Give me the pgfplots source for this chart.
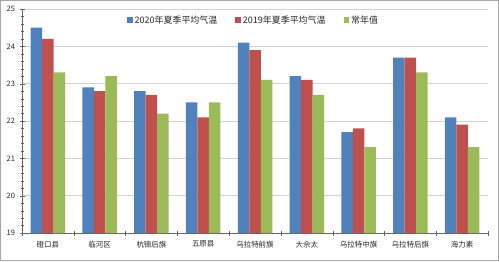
\documentclass[border=0pt]{standalone}
\usepackage{fontspec}
\setmainfont{Noto Sans CJK SC}
\usepackage{pgfplots}
\pgfplotsset{compat=1.18}
\definecolor{cb}{HTML}{4F81BD}
\definecolor{cr}{HTML}{C0504D}
\definecolor{cg}{HTML}{9BBB59}
\begin{document}
\begin{tikzpicture}[x=1bp,y=1bp]
\path (0,0) rectangle (499,261);
\draw[gray!70,line width=0.8bp] (0.5,0.5) rectangle (498.5,260.5);
\begin{axis}[
  at={(22bp,28bp)}, anchor=south west,
  width=466bp, height=224bp, scale only axis,
  ybar=0pt, bar width=11.5bp,
  xmin=-0.5, xmax=8.5, ymin=19, ymax=25,
  ytick={19,20,...,25},
  minor y tick num=4,
  axis x line*=bottom, axis y line*=left,
  axis line style={gray!80!black},
  tick style={gray!80!black},
  tick align=center,
  major tick length=5bp, minor tick length=3bp,
  ymajorgrids, major grid style={gray!35},
  xtick={0,...,8}, x tick style={draw=none},
  xticklabels={磴口县,临河区,杭锦后旗,五原县,乌拉特前旗,大佘太,乌拉特中旗,乌拉特后旗,海力素},
  extra x ticks={-0.5,0.5,...,8.5}, extra x tick labels={},
  extra x tick style={x tick style={draw=gray!80!black}, major tick length=5bp, grid=none},
  ticklabel style={font=\fontsize{7.5}{9}\selectfont, text=black!85},
  /pgf/number format/assume math mode=true,
  yticklabel style={xshift=-1bp},
  xticklabel style={yshift=-2bp},
  legend columns=3,
  legend style={at={(0.497,0.951)}, anchor=center, draw=none, fill=white,
    font=\fontsize{9}{10}\selectfont, text=black!85,
    /tikz/every even column/.append style={column sep=16bp}},
  legend image code/.code={\fill[#1] (0bp,-2.8bp) rectangle (5.6bp,2.8bp);},
]
\addplot[fill=cb, draw=none] coordinates {(0,24.5) (1,22.9) (2,22.8) (3,22.5) (4,24.1) (5,23.2) (6,21.7) (7,23.7) (8,22.1)};
\addplot[fill=cr, draw=none] coordinates {(0,24.2) (1,22.8) (2,22.7) (3,22.1) (4,23.9) (5,23.1) (6,21.8) (7,23.7) (8,21.9)};
\addplot[fill=cg, draw=none] coordinates {(0,23.3) (1,23.2) (2,22.2) (3,22.5) (4,23.1) (5,22.7) (6,21.3) (7,23.3) (8,21.3)};
\legend{2020年夏季平均气温,2019年夏季平均气温,常年值}
\end{axis}
\end{tikzpicture}
\end{document}
